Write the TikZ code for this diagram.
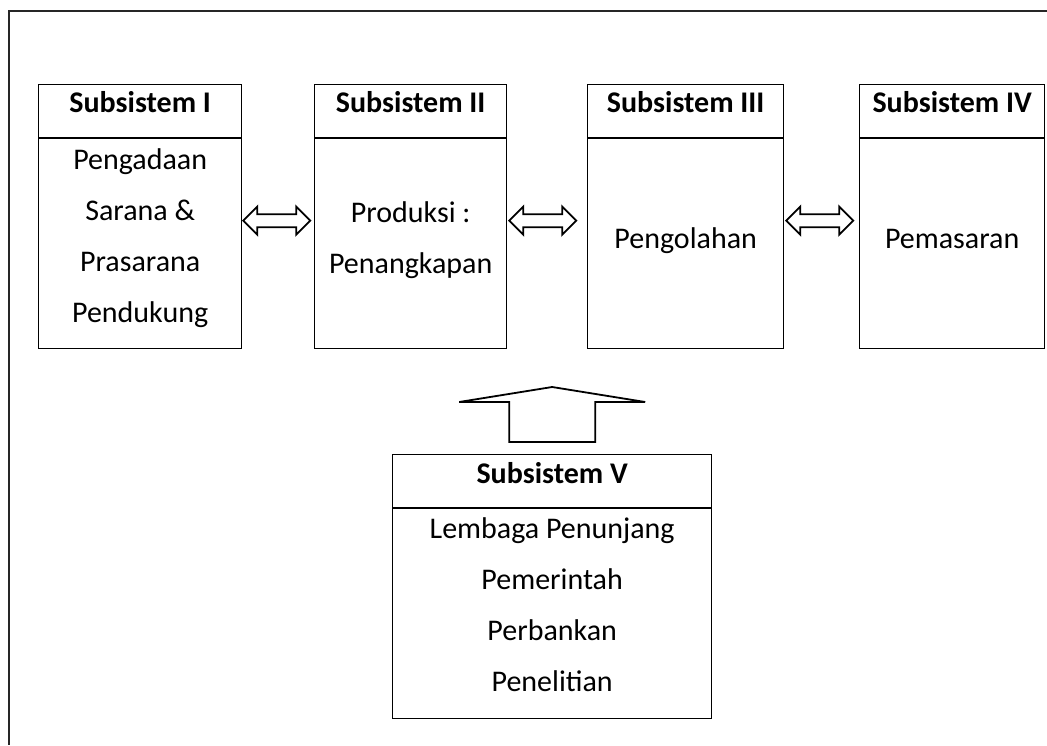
\documentclass[tikz,border=0pt]{standalone}
\usepackage{fontspec}
\setmainfont{Carlito}
\usetikzlibrary{calc}
\tikzset{
  boxst/.style={draw=black, line width=1.3pt, anchor=north west, inner sep=0pt},
  hd/.style={font=\fontsize{30}{36}\selectfont\bfseries, anchor=base, inner sep=0pt},
  bd/.style={font=\fontsize{30}{36}\selectfont, anchor=base, inner sep=0pt},
  arr/.style={draw=black, fill=white, line width=1.8pt, line join=miter},
  frame/.style={draw=black!85, line width=2pt},
  divider/.style={draw=black, line width=1.2pt}
}
\newcommand{\dbarrow}[1]{\draw[arr] #1 -- ++(14,-14) -- ++(0,7.5) -- ++(39,0) -- ++(0,-7.5) -- ++(14,14) -- ++(-14,14) -- ++(0,-7.5) -- ++(-39,0) -- ++(0,7.5) -- cycle;}
\begin{document}
\begin{tikzpicture}[x=1pt,y=-1pt]
\useasboundingbox (0,0) rectangle (1047,745);
% outer frame (top and left only)
\coordinate (ftl) at (9,11);
\coordinate (ftr) at (1047,11);
\coordinate (fbl) at (9,745);
\draw[frame] (ftr) -- (ftl) -- (fbl);
% boxes
\node[boxst, minimum width=203pt, minimum height=264pt] (b1) at (38,84) {};
\node[boxst, minimum width=192pt, minimum height=264pt] (b2) at (314,84) {};
\node[boxst, minimum width=196pt, minimum height=264pt] (b3) at (587,84) {};
\node[boxst, minimum width=185pt, minimum height=264pt] (b4) at (859,84) {};
\node[boxst, minimum width=319pt, minimum height=264pt] (b5) at (392,454) {};
% header dividers
\foreach \b in {b1,b2,b3,b4,b5}{
  \draw[divider] ([yshift=-54pt]\b.north west) -- ([yshift=-54pt]\b.north east);
}
% headers
\node[hd] (h1) at ($(b1.north)+(0,28)$) {Subsistem I};
\node[hd] (h2) at ($(b2.north)+(0,28)$) {Subsistem II};
\node[hd] (h3) at ($(b3.north)+(0,28)$) {Subsistem III};
\node[hd] (h4) at ($(b4.north)+(0,28)$) {Subsistem IV};
\node[hd] (h5) at ($(b5.north)+(0,29)$) {Subsistem V};
% body texts
\node[bd] (t1a) at ($(b1.north)+(0,85)$) {Pengadaan};
\node[bd] (t1b) at ($(b1.north)+(0,136)$) {Sarana \&};
\node[bd] (t1c) at ($(b1.north)+(0,187)$) {Prasarana};
\node[bd] (t1d) at ($(b1.north)+(0,238)$) {Pendukung};
\node[bd] (t2a) at ($(b2.north)+(0,138)$) {Produksi :};
\node[bd] (t2b) at ($(b2.north)+(0,189)$) {Penangkapan};
\node[bd] (t3a) at ($(b3.north)+(0,164)$) {Pengolahan};
\node[bd] (t4a) at ($(b4.north)+(0,164)$) {Pemasaran};
\node[bd] (t5a) at ($(b5.north)+(0,84)$) {Lembaga Penunjang};
\node[bd] (t5b) at ($(b5.north)+(0,135)$) {Pemerintah};
\node[bd] (t5c) at ($(b5.north)+(0,186)$) {Perbankan};
\node[bd] (t5d) at ($(b5.north)+(0,237)$) {Penelitian};
% double arrows between boxes
\dbarrow{($(b1.east)+(1,4)$)}
\dbarrow{($(b2.east)+(2,4)$)}
\dbarrow{($(b3.east)+(2,4)$)}
% up arrow from Subsistem V
\draw[arr] ($(b5.north)+(-43,-12)$) -- ($(b5.north)+(-43,-52)$) -- ($(b5.north)+(-93,-52)$) -- ($(b5.north)+(0,-67)$) -- ($(b5.north)+(93,-52)$) -- ($(b5.north)+(43,-52)$) -- ($(b5.north)+(43,-12)$) -- cycle;
\end{tikzpicture}
\end{document}
